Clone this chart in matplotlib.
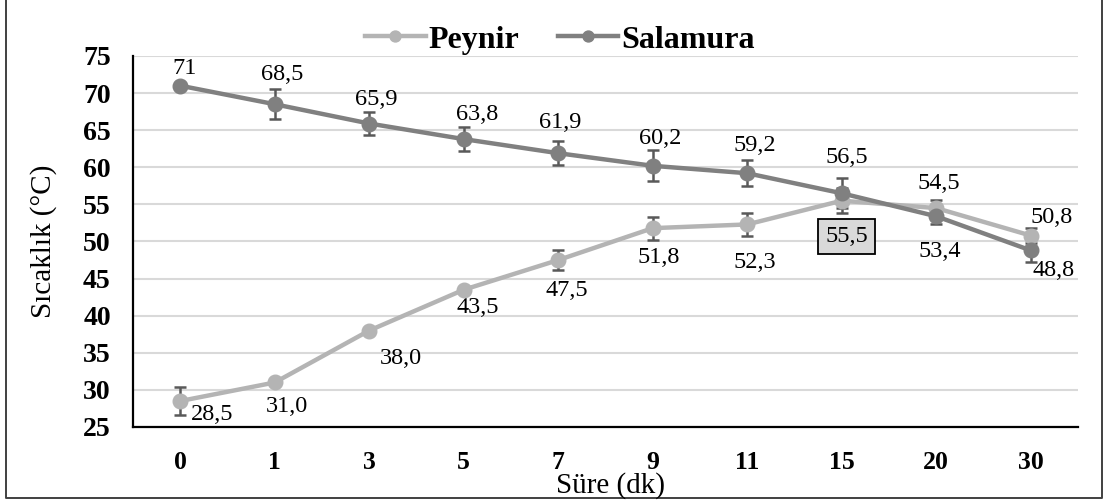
import matplotlib.pyplot as plt
from matplotlib.lines import Line2D

plt.rcParams['font.family'] = ['Liberation Serif', 'DejaVu Serif']

# time points (minutes)
times = ["0", "1", "3", "5", "7", "9", "11", "15", "20", "30"]

peynir = [28.5, 31.0, 38.0, 43.5, 47.5, 51.8, 52.3, 55.5, 54.5, 50.8]
peynir_err = [1.95, 0.3, 0.3, 0.3, 1.35, 1.55, 1.6, 1.7, 1.1, 1.05]
peynir_labels = ["28,5", "31,0", "38,0", "43,5", "47,5", "51,8", "52,3", "55,5", "54,5", "50,8"]

salamura = [71, 68.5, 65.9, 63.8, 61.9, 60.2, 59.2, 56.5, 53.4, 48.8]
salamura_err = [0.3, 2.0, 1.5, 1.6, 1.6, 2.1, 1.75, 2.0, 1.0, 1.6]
salamura_labels = ["71", "68,5", "65,9", "63,8", "61,9", "60,2", "59,2", "56,5", "53,4", "48,8"]

# label offsets in pixels (dx, dy), screen up is positive
peynir_off = [(32, -13), (12, -24), (32, -28), (14, -18), (9, -30), (6, -29), (8, -38), (5, -36), (3, 25), (21, 18)]
salamura_off = [(4, 17), (7, 30), (7, 24), (13, 25), (2, 31), (7, 27), (8, 28), (5, 36), (3, -35), (23, -20)]

c_peynir = "#b4b4b4"
c_salamura = "#808080"
c_err = "#595959"

fig = plt.figure(figsize=(11.07, 5.04), dpi=100)
ax = fig.add_axes([133 / 1107, 1 - 427 / 504, (1078 - 133) / 1107, (427 - 56) / 504])

x = list(range(len(times)))
px = 0.72  # pixels -> points

for vals, errs, col, name in [(peynir, peynir_err, c_peynir, "Peynir"),
                              (salamura, salamura_err, c_salamura, "Salamura")]:
    ax.errorbar(x, vals, yerr=errs, fmt="none", ecolor=c_err, elinewidth=1.8,
                capsize=4.5, capthick=1.8, zorder=3)
    ax.plot(x, vals, color=col, lw=3.2, marker="o", ms=10.5, label=name, zorder=4)

for i in x:
    t, (dx, dy) = peynir_labels[i], peynir_off[i]
    if i == 7:
        ax.annotate(t, (i, peynir[i]), xytext=(dx * px, dy * px), textcoords="offset points",
                    ha="center", va="center", fontsize=17.5,
                    bbox=dict(boxstyle="square,pad=0.3", fc="#d9d9d9", ec="black", lw=1.3))
    else:
        ax.annotate(t, (i, peynir[i]), xytext=(dx * px, dy * px), textcoords="offset points",
                    ha="center", va="center", fontsize=17.5)
    t, (dx, dy) = salamura_labels[i], salamura_off[i]
    ax.annotate(t, (i, salamura[i]), xytext=(dx * px, dy * px), textcoords="offset points",
                ha="center", va="center", fontsize=17.5)

ax.set_xlim(-0.5, len(times) - 0.5)
ax.set_ylim(25, 75)
ax.set_yticks(range(25, 80, 5))
ax.set_xticks(x)
ax.set_xticklabels(times)
ax.tick_params(length=0)
ax.tick_params(axis="x", pad=17, labelsize=18.5)
ax.tick_params(axis="y", pad=16, labelsize=20)
for lab in ax.get_xticklabels() + ax.get_yticklabels():
    lab.set_fontweight("bold")

ax.grid(axis="y", color="#d9d9d9", lw=1.5)
ax.set_axisbelow(True)
for s in ["top", "right"]:
    ax.spines[s].set_visible(False)
for s in ["left", "bottom"]:
    ax.spines[s].set_linewidth(1.6)
    ax.spines[s].set_color("black")

ax.set_ylabel("Sıcaklık (°C)", fontsize=21, labelpad=19)
fig.text(610 / 1107, 1 - 493 / 504, "Süre (dk)", fontsize=21, ha="center", va="baseline")

fig.legend(loc="center", bbox_to_anchor=(560 / 1107, 1 - 40 / 504), ncol=2, frameon=False,
           prop=dict(weight="bold", size=23), handlelength=1.9, handletextpad=0.1,
           columnspacing=1.2, markerscale=0.75)

# outer frame (left, bottom, right edges only)
bx0, bx1, by0 = 6 / 1107, 1102 / 1107, 1 - 498 / 504
fig.add_artist(Line2D([bx0, bx0, bx1, bx1], [1, by0, by0, 1], transform=fig.transFigure,
                      color="#404040", lw=1.4))

fig.savefig("out.png", dpi=100)
